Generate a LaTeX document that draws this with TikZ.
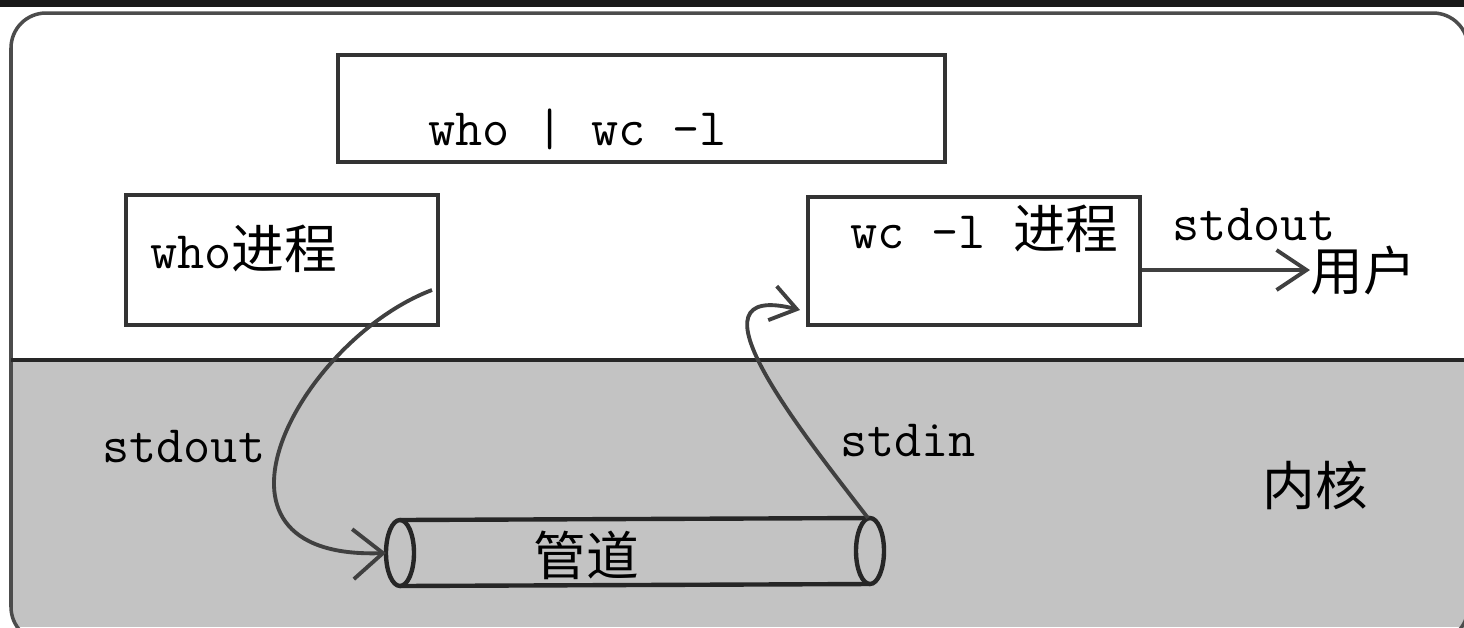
\documentclass[tikz,border=0pt]{standalone}
\usepackage{fontspec}
\newfontfamily\hanzi{Noto Sans CJK SC}
\usetikzlibrary{arrows.meta,calc}
\definecolor{kernelgray}{RGB}{195,195,195}

\begin{document}
\begin{tikzpicture}[x=0.02cm,y=-0.02cm,>={Straight Barb[length=6mm,width=10mm]},
  every node/.style={font=\ttfamily\fontsize{30}{33}\selectfont,inner sep=0pt},
  box/.style={draw=black!80, line width=2pt, fill=white, rectangle},
  txt/.style={anchor=base west},
  flow/.style={->,draw=black!75,line width=2.2pt}]

\useasboundingbox (0,0) rectangle (1464,627);
\clip (0,0) rectangle (1464,627);

% Fondo y marco
\fill[white] (0,0) rectangle (1464,627);
\fill[black!90] (0,0) rectangle (1464,7);
\begin{scope}
  \clip[rounded corners=0.7cm] (11,13) rectangle (1468,642);
  \fill[kernelgray] (0,360) rectangle (1464,627);
\end{scope}
\draw[black!70, line width=2pt, rounded corners=0.7cm] (11,13) rectangle (1468,642);
\draw[black!85, line width=2.5pt] (11,360) -- (1468,360);

% Comando y procesos
\node[box, minimum width=12.14cm, minimum height=2.14cm] (cmd) at (641.5,108.5) {};
\node[txt] (cmdtext) at (428,145) {who | wc -l};
\node[box, minimum width=6.24cm, minimum height=2.6cm] (who) at (282,260) {};
\node[txt] (whotext) at (150,268) {who{\hanzi 进程}};
\node[box, minimum width=6.64cm, minimum height=2.56cm] (wc) at (974,261) {};
\node[txt] (wctext) at (850,248) {wc -l {\hanzi 进程}};

% Salida al usuario
\node[txt] (outlabel) at (1172,240) {stdout};
\node[anchor=west] (user) at (1310,270) {\hanzi 用户};
\draw[flow, >={Straight Barb[length=6mm,width=8mm]}] (wc.east |- user.west) -- (user.west);

% Nucleo
\node[txt] (stdoutk) at (102,462) {stdout};
\node[txt] (stdink) at (840,456) {stdin};
\node[txt] (kernel) at (1262,505) {\hanzi 内核};

% Tuberia
\coordinate (pipeL) at (400,553);
\coordinate (pipeR) at (870,551);
\draw[black!85, line width=2.5pt] (400,520) -- (870,518) (400,586) -- (870,584);
\draw[black!85, line width=2.5pt] (pipeL) ellipse [x radius=14, y radius=33];
\draw[black!85, line width=2.5pt] (pipeR) ellipse [x radius=14, y radius=33];
\node[txt] (pipetext) at (533,575) {\hanzi 管道};

% Flechas entre procesos y tuberia
\coordinate (whoOut) at (432,290);
\coordinate (wcIn) at (800,310);
\coordinate (pipeIn) at (386,553);
\coordinate (pipeOut) at (868,518);
\draw[flow] (whoOut) .. controls (300,340) and (180,560) .. (pipeIn);
\draw[flow, >={Straight Barb[length=5mm,width=7mm]}] (pipeOut) .. controls (800,430) and (680,280) .. (wcIn);

\end{tikzpicture}
\end{document}
